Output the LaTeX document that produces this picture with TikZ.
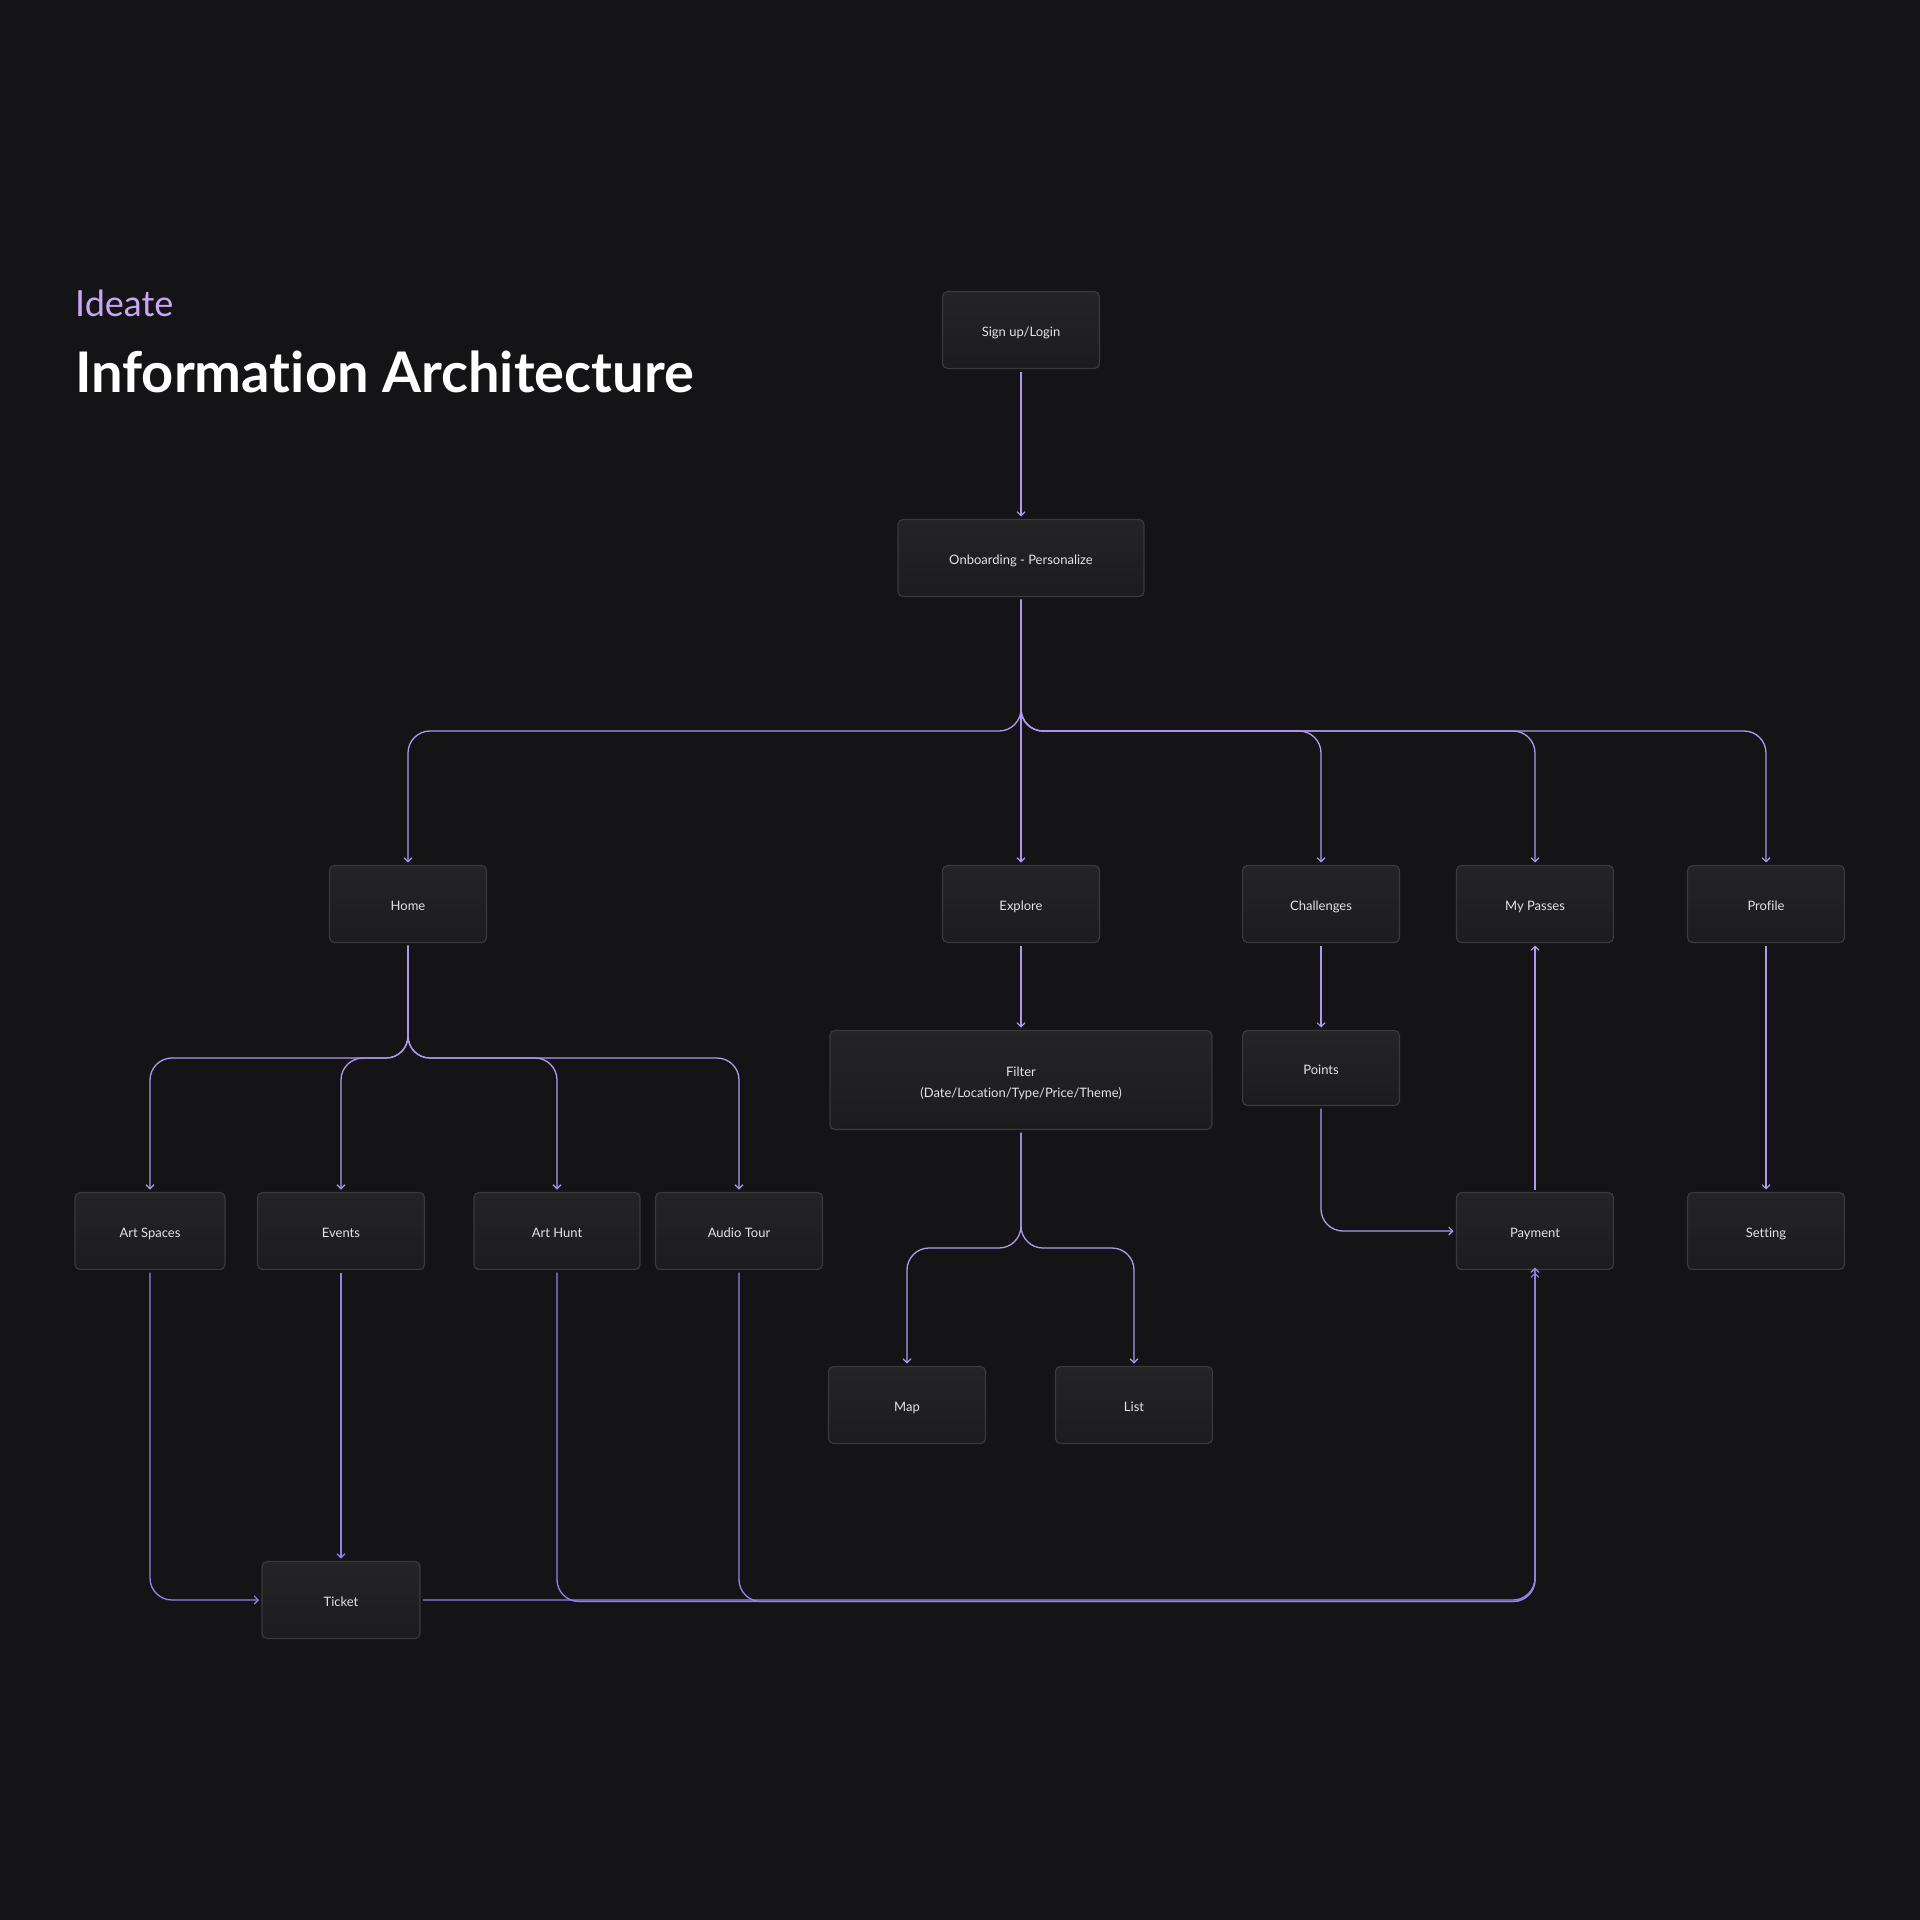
\documentclass[tikz,border=0pt]{standalone}
\usepackage{fontspec}
\setmainfont{Lato}[Ligatures=NoCommon]
\usetikzlibrary{arrows.meta}
\definecolor{bg}{HTML}{141416}
\definecolor{boxtop}{HTML}{242426}
\definecolor{boxbot}{HTML}{1C1C1E}
\definecolor{boxline}{HTML}{3A3A3D}
\definecolor{boxtext}{HTML}{E4E4E6}
\definecolor{linec}{HTML}{B09AF0}
\definecolor{linelow}{HTML}{9682EC}
\definecolor{ideate}{HTML}{C9A6F6}
\begin{document}
\begin{tikzpicture}[x=1pt,y=-1pt,
  boxbase/.style={draw=boxline, line width=1.2pt, rounded corners=5pt, top color=boxtop, bottom color=boxbot,
    text=boxtext, font=\fontsize{13}{21}\selectfont, minimum width=157pt, minimum height=77pt,
    inner sep=0pt, outer sep=3pt},
  box/.style={boxbase, text height=13pt, text depth=0pt},
  conn/.style={draw=linec, line width=1.3pt, rounded corners=22pt,
    -{Straight Barb[length=4pt,width=8pt,line width=1.1pt]}},
  connlow/.style={conn, draw=linelow}]
\fill[bg] (0,0) rectangle (1920,1920);
\useasboundingbox (0,0) rectangle (1920,1920);

\node[anchor=base west, text=ideate, font=\fontsize{36}{40}\selectfont, inner sep=0pt] (ide) at (75,316) {Ideate};
\node[anchor=base west, text=white, font=\fontsize{56}{60}\selectfont\bfseries, inner sep=0pt] (ttl) at (75,392) {Information Architecture};

\node[box] (sign) at (1021,330) {Sign up/Login};
\node[box, minimum width=246pt] (onb) at (1021,558) {Onboarding - Personalize};

\node[box] (home) at (408,904) {Home};
\node[box] (explore) at (1021,904) {Explore};
\node[box] (chal) at (1321,904) {Challenges};
\node[box] (pass) at (1535,904) {My Passes};
\node[box] (prof) at (1766,904) {Profile};

\node[boxbase, minimum width=382pt, minimum height=99pt] (filter) at (1021,1080)
  {\raisebox{-2.6pt}[\height][\depth]{\begin{tabular}{@{}c@{}}Filter\\(Date/Location/Type/Price/Theme)\end{tabular}}};
\node[box, minimum height=75pt] (points) at (1321,1068) {Points};

\node[box, minimum width=150pt] (arts) at (150,1231) {Art Spaces};
\node[box, minimum width=167pt] (events) at (341,1231) {Events};
\node[box, minimum width=166pt] (hunt) at (557,1231) {Art Hunt};
\node[box, minimum width=167pt] (audio) at (739,1231) {Audio Tour};
\node[box] (pay) at (1535,1231) {Payment};
\node[box] (set) at (1766,1231) {Setting};

\node[box] (map) at (907,1405) {Map};
\node[box] (list) at (1134,1405) {List};

\node[box, minimum width=158pt] (ticket) at (341,1600) {Ticket};

% top
\draw[conn] (sign) -- (onb);
\draw[conn] (onb.south) -- (1021,731) -- (408,731) -- (home.north);
\draw[conn] (onb) -- (explore);
\draw[conn] (onb.south) -- (1021,731) -- (1321,731) -- (chal.north);
\draw[conn] (onb.south) -- (1021,731) -- (1535,731) -- (pass.north);
\draw[conn] (onb.south) -- (1021,731) -- (1766,731) -- (prof.north);

% home children
\draw[conn] (home.south) -- (408,1058) -- (150,1058) -- (arts.north);
\draw[conn] (home.south) -- (408,1058) -- (341,1058) -- (events.north);
\draw[conn] (home.south) -- (408,1058) -- (557,1058) -- (hunt.north);
\draw[conn] (home.south) -- (408,1058) -- (739,1058) -- (audio.north);

% explore
\draw[conn] (explore) -- (filter);
\draw[conn] (filter.south) -- (1021,1248) -- (907,1248) -- (map.north);
\draw[conn] (filter.south) -- (1021,1248) -- (1134,1248) -- (list.north);

% challenges
\draw[conn] (chal) -- (points);
\draw[conn] (points.south) -- (1321,1231) -- (pay.west);
\draw[conn] (pay) -- (pass);
\draw[conn] (prof) -- (set);

% bottom
\draw[connlow] (arts.south) -- (150,1600) -- (ticket.west);
\draw[connlow] (events) -- (ticket);
\draw[connlow] (ticket.east) -- (1535,1600) -- (pay.south);
\draw[connlow] (hunt.south) -- (557,1601.5) -- (1535,1601.5) -- ([yshift=5pt]pay.south);
\draw[connlow] (audio.south) -- (739,1601.5) -- (1535,1601.5) -- ([yshift=5pt]pay.south);
\end{tikzpicture}
\end{document}
